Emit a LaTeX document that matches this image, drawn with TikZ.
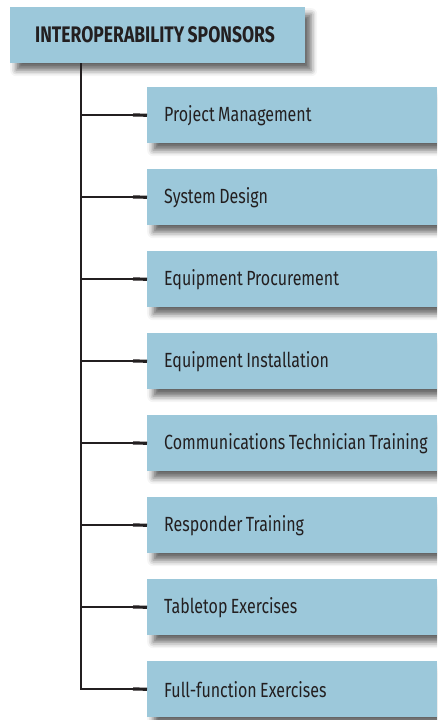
\documentclass[tikz,border=0pt]{standalone}
\usepackage{fontspec}
\setmainfont{Fira Sans}[FakeStretch=0.78, WordSpace=0.8]
\usetikzlibrary{shadows.blur}
\definecolor{boxblue}{HTML}{9CC8DA}
\definecolor{ink}{HTML}{231F20}
\newcommand{\boxtext}[2]{\makebox[#1][l]{#2}}
\tikzset{
  base/.style={rectangle, fill=boxblue, anchor=north west, text=ink,
    minimum height=56pt, inner ysep=0pt, font=\fontsize{20.5}{24}\selectfont,
    blur shadow={shadow xshift=6pt, shadow yshift=-7pt, shadow blur radius=6pt, shadow opacity=60}},
  topbox/.style={base, inner xsep=25pt, font=\fontsize{22.5}{24}\selectfont\bfseries},
  childbox/.style={base, inner xsep=17pt},
  link/.style={draw=ink, line width=2pt},
  stub/.style={draw=ink, line width=3.2pt}
}
\begin{document}
\begin{tikzpicture}[x=1pt,y=1pt]
\useasboundingbox (0,0) rectangle (437,-720);
\clip (0,0) rectangle (437,-720);
\node[topbox] (top) at (10,-7) {\boxtext{245pt}{INTEROPERABILITY SPONSORS}};
\coordinate (trunk) at (81,-63);
\foreach \t [count=\i from 0] in {Project Management, System Design, Equipment Procurement, Equipment Installation, Communications Technician Training, Responder Training, Tabletop Exercises, Full-function Exercises}{
  \node[childbox] (c\i) at (147,{-87-82*\i}) {\boxtext{256pt}{\t}};
  \coordinate (j\i) at (81,{-115-82*\i});
  \coordinate (s\i) at (133,{-115-82*\i});
  \draw[link] (j\i) -- (s\i);
  \draw[stub] (s\i) -- (c\i.west);
}
\draw[link] (trunk) -- ([yshift=-1pt]j7);
\end{tikzpicture}
\end{document}
